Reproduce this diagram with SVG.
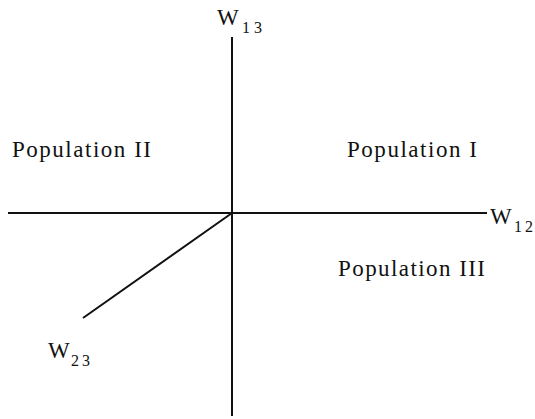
<svg xmlns="http://www.w3.org/2000/svg" width="535" height="419" viewBox="0 0 535 419">
<style>
text{font-family:"Liberation Serif","Times New Roman",serif;fill:#111}
.pop{font-size:23px}
.w{font-size:23px}
.sub{font-size:16px}
.ax{stroke:#111;stroke-width:2;fill:none}
</style>
<rect width="535" height="419" fill="#fff"/>
<g id="connectors">
<line class="ax" x1="232" y1="37" x2="232" y2="416"/>
<line class="ax" x1="8" y1="213" x2="487" y2="213"/>
<line class="ax" x1="232" y1="213" x2="83" y2="318" stroke-width="2.5"/>
</g>
<g id="axis-w13"><text class="w" x="217" y="25" textLength="22">W</text><text class="sub" x="242" y="33" textLength="20">13</text></g>
<g id="axis-w12"><text class="w" x="490" y="224" textLength="22">W</text><text class="sub" x="514" y="232" textLength="19">12</text></g>
<g id="axis-w23"><text class="w" x="48" y="358" textLength="22">W</text><text class="sub" x="71" y="366" textLength="19">23</text></g>
<g id="pop2"><text class="pop" x="12" y="157" textLength="139">Population II</text></g>
<g id="pop1"><text class="pop" x="347" y="157" textLength="130">Population I</text></g>
<g id="pop3"><text class="pop" x="338" y="276" textLength="147">Population III</text></g>
</svg>
